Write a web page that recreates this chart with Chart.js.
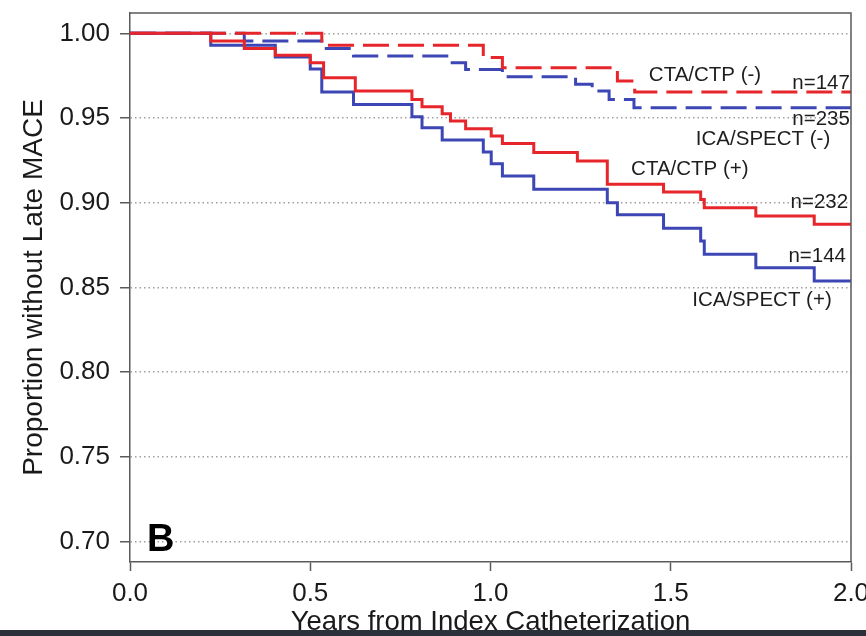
<!DOCTYPE html>
<html>
<head>
<meta charset="utf-8">
<script src="https://cdn.jsdelivr.net/npm/chart.js@4/dist/chart.umd.min.js"></script>
<style>
  html, body { margin: 0; padding: 0; background: #ffffff; }
  canvas { display: block; }
</style>
</head>
<body>
<canvas id="c" width="866" height="636"></canvas>
<script>
// ---- Data ----
const xTicks = [0.0, 0.5, 1.0, 1.5, 2.0];
const yTicks = [0.70, 0.75, 0.80, 0.85, 0.90, 0.95, 1.00];

// CTA/CTP (-)  red dashed
const ctaNegTimes = [0, 0.532, 0.980, 1.033, 1.352, 1.400, 2.0];
const ctaNegSurv  = [1.000, 0.9929, 0.9857, 0.9797, 0.9719, 0.9654, 0.9654];

// ICA/SPECT (-)  blue dashed
const icaNegTimes = [0, 0.317, 0.532, 0.620, 0.889, 0.931, 1.033, 1.236, 1.282, 1.329, 1.398, 2.0];
const icaNegSurv  = [1.000, 0.9955, 0.9910, 0.9866, 0.9827, 0.9787, 0.9744, 0.9699, 0.9660, 0.9610, 0.9561, 0.9561];

// CTA/CTP (+)  red solid
const ctaPosTimes = [0, 0.224, 0.317, 0.403, 0.500, 0.537, 0.625, 0.782, 0.810, 0.866, 0.889, 0.931, 1.002, 1.033, 1.120, 1.241, 1.324, 1.480, 1.583, 1.593, 1.736, 1.898, 2.0];
const ctaPosSurv  = [1.000, 0.9955, 0.9910, 0.9870, 0.9827, 0.9738, 0.9660, 0.9610, 0.9567, 0.9526, 0.9482, 0.9437, 0.9394, 0.9350, 0.9296, 0.9247, 0.9109, 0.9064, 0.9020, 0.8970, 0.8922, 0.8873, 0.8873];

// ICA/SPECT (+)  blue solid
const icaPosTimes = [0, 0.224, 0.403, 0.500, 0.532, 0.620, 0.782, 0.810, 0.866, 0.980, 1.002, 1.033, 1.120, 1.324, 1.352, 1.480, 1.583, 1.593, 1.736, 1.898, 2.0];
const icaPosSurv  = [1.000, 0.9930, 0.9860, 0.9790, 0.9654, 0.9580, 0.9508, 0.9443, 0.9370, 0.9300, 0.9230, 0.9158, 0.9080, 0.9000, 0.8930, 0.8849, 0.8774, 0.8696, 0.8617, 0.8538, 0.8538];

// Curve annotations (data coordinates)
const noteTexts  = ['CTA/CTP (-)', 'n=147', 'n=235', 'ICA/SPECT (-)', 'CTA/CTP (+)', 'n=232', 'n=144', 'ICA/SPECT (+)'];
const noteX      = [1.595, 1.997, 1.997, 1.756, 1.553, 1.992, 1.986, 1.753];
const noteY      = [0.9752, 0.9705, 0.9492, 0.9374, 0.9197, 0.9002, 0.8684, 0.8424];
const noteAlign  = ['center', 'right', 'right', 'center', 'center', 'right', 'right', 'center'];

const panelLabel = 'B';

// ---- Styling ----
const RED = '#e6262b';
const BLUE = '#3c46b4';
const FONT = "'Liberation Sans', Arial, Helvetica, sans-serif";

const pts = (t, s) => t.map((v, i) => ({ x: v, y: s[i] }));

const bgPlugin = {
  id: 'bg',
  beforeDraw(chart) {
    const ctx = chart.ctx;
    ctx.save();
    ctx.fillStyle = '#ffffff';
    ctx.fillRect(0, 0, chart.width, chart.height);
    ctx.restore();
  }
};

const boxPlugin = {
  id: 'box',
  afterDraw(chart) {
    const { ctx, chartArea: a, scales } = chart;
    ctx.save();
    // frame
    ctx.strokeStyle = '#5a5a5a';
    ctx.lineWidth = 1.5;
    ctx.beginPath();
    ctx.moveTo(a.left, a.top);
    ctx.lineTo(a.right, a.top);
    ctx.lineTo(a.right, a.bottom);
    ctx.stroke();
    // annotations
    ctx.fillStyle = '#1e1e1e';
    ctx.font = '20.5px ' + FONT;
    ctx.textBaseline = 'middle';
    noteTexts.forEach((t, i) => {
      ctx.textAlign = noteAlign[i];
      ctx.fillText(t, scales.x.getPixelForValue(noteX[i]), scales.y.getPixelForValue(noteY[i]));
    });
    // panel label
    ctx.font = 'bold 38px ' + FONT;
    ctx.textAlign = 'left';
    ctx.textBaseline = 'alphabetic';
    ctx.fillStyle = '#000000';
    ctx.fillText(panelLabel, scales.x.getPixelForValue(0.047), scales.y.getPixelForValue(0.6942));
    // bottom frame bar of the figure
    ctx.fillStyle = '#2c303b';
    ctx.fillRect(0, 630, chart.width, chart.height - 630);
    ctx.restore();
  }
};

const mk = (label, t, s, color, dash) => ({
  label,
  data: pts(t, s),
  borderColor: color,
  backgroundColor: color,
  borderWidth: 3,
  borderDash: dash,
  stepped: 'before',
  pointRadius: 0,
  fill: false,
  tension: 0
});

new Chart(document.getElementById('c'), {
  type: 'line',
  data: {
    datasets: [
      mk('CTA/CTP (+)', ctaPosTimes, ctaPosSurv, RED, []),
      mk('ICA/SPECT (+)', icaPosTimes, icaPosSurv, BLUE, []),
      mk('CTA/CTP (-)', ctaNegTimes, ctaNegSurv, RED, [26, 9]),
      mk('ICA/SPECT (-)', icaNegTimes, icaNegSurv, BLUE, [26, 9])
    ]
  },
  options: {
    responsive: false,
    animation: false,
    devicePixelRatio: 1,
    layout: { padding: { top: 13, right: 15, left: 0, bottom: 0 } },
    plugins: { legend: { display: false }, tooltip: { enabled: false } },
    scales: {
      x: {
        type: 'linear',
        min: 0,
        max: 2,
        afterBuildTicks: s => { s.ticks = xTicks.map(v => ({ value: v })); },
        afterFit: s => { s.height = 74; s.paddingLeft = 0; s.paddingRight = 0; },
        ticks: {
          callback: v => Number(v).toFixed(1),
          color: '#1a1a1a',
          font: { family: FONT, size: 26 },
          padding: 7,
          maxRotation: 0,
          autoSkip: false
        },
        grid: { drawOnChartArea: false, drawTicks: true, tickLength: 9, tickColor: '#5a5a5a', tickWidth: 1.5 },
        border: { display: true, color: '#5a5a5a', width: 1.5 },
        title: {
          display: true,
          text: 'Years from Index Catheterization',
          color: '#1a1a1a',
          font: { family: FONT, size: 27.5, lineHeight: 1 },
          padding: { top: 0, bottom: 0 }
        }
      },
      y: {
        type: 'linear',
        min: 0.688,
        max: 1.012,
        afterBuildTicks: s => { s.ticks = yTicks.map(v => ({ value: v })); },
        afterFit: s => { s.width = 130; s.paddingTop = 0; s.paddingBottom = 0; },
        ticks: {
          callback: v => Number(v).toFixed(2),
          color: '#1a1a1a',
          font: { family: FONT, size: 26 },
          padding: 10,
          autoSkip: false
        },
        grid: {
          drawOnChartArea: true,
          color: '#a0a0a0',
          lineWidth: 1.5,
          drawTicks: true,
          tickLength: 10,
          tickColor: '#5a5a5a',
          tickWidth: 1.5,
          tickBorderDash: []
        },
        border: { display: true, color: '#5a5a5a', width: 1.5, dash: [1.5, 3] },
        title: {
          display: true,
          text: 'Proportion without Late MACE',
          color: '#1a1a1a',
          font: { family: FONT, size: 28, lineHeight: 1 },
          padding: { top: 20, bottom: 0 }
        }
      }
    }
  },
  plugins: [bgPlugin, boxPlugin]
});
</script>
</body>
</html>
